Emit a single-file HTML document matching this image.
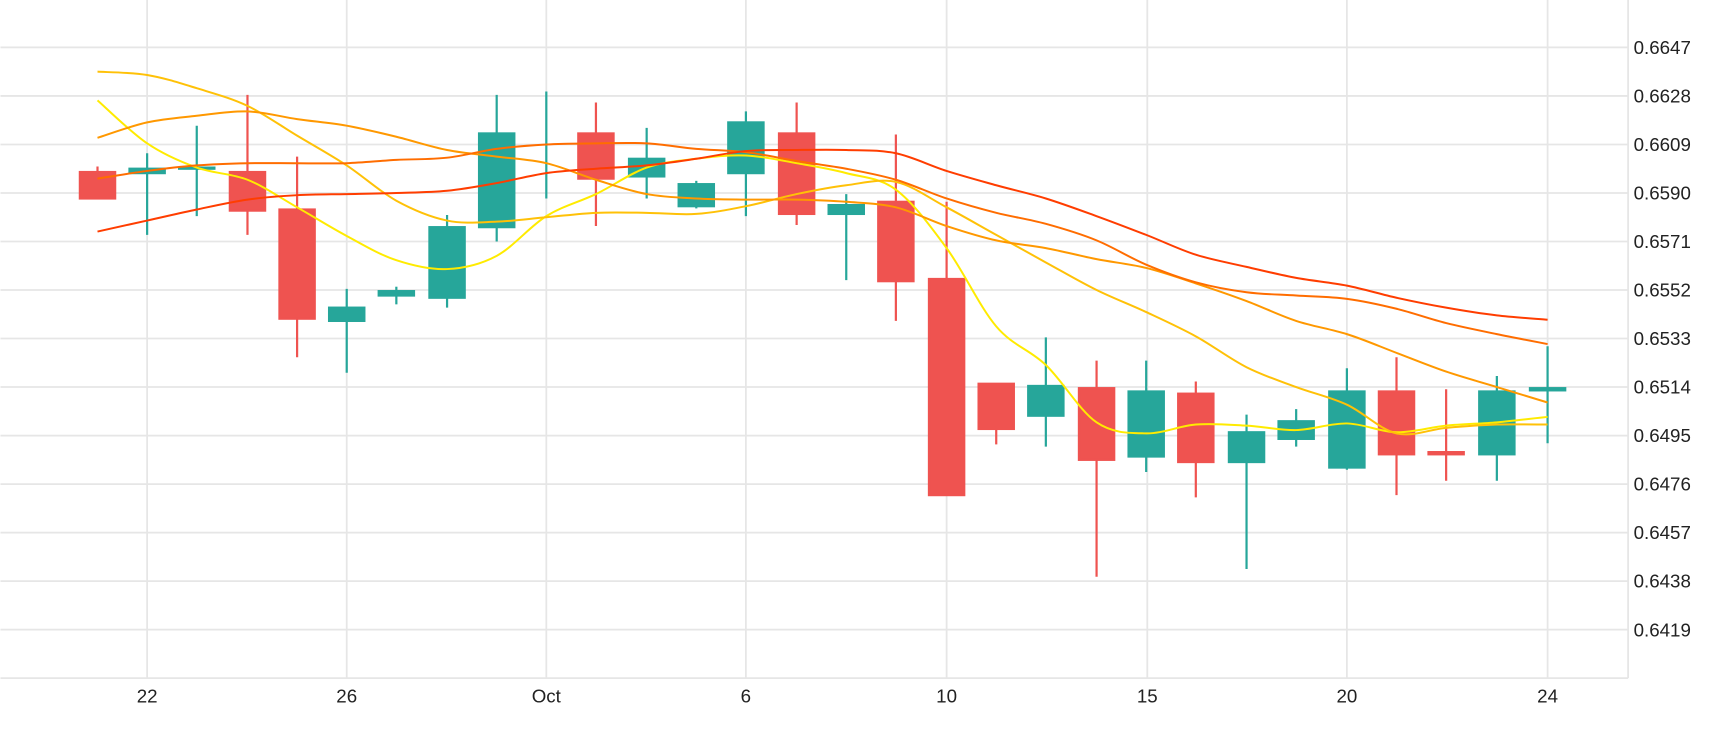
<!DOCTYPE html>
<html><head><meta charset="utf-8"><style>html,body{margin:0;padding:0;background:#fff}svg{display:block}</style></head>
<body>
<svg id="c" width="1730" height="730" viewBox="0 0 1568 662" xmlns="http://www.w3.org/2000/svg" font-family="Liberation Sans, sans-serif">
<g stroke="#e6e6e6" stroke-width="1.6">
<line x1="0" y1="43" x2="1476" y2="43"/><line x1="0" y1="87" x2="1476" y2="87"/><line x1="0" y1="131" x2="1476" y2="131"/><line x1="0" y1="175" x2="1476" y2="175"/><line x1="0" y1="219" x2="1476" y2="219"/><line x1="0" y1="263" x2="1476" y2="263"/><line x1="0" y1="307" x2="1476" y2="307"/><line x1="0" y1="351" x2="1476" y2="351"/><line x1="0" y1="395" x2="1476" y2="395"/><line x1="0" y1="439" x2="1476" y2="439"/><line x1="0" y1="483" x2="1476" y2="483"/><line x1="0" y1="527" x2="1476" y2="527"/><line x1="0" y1="571" x2="1476" y2="571"/>
<line x1="133" y1="0" x2="133" y2="615"/><line x1="314" y1="0" x2="314" y2="615"/><line x1="495" y1="0" x2="495" y2="615"/><line x1="676" y1="0" x2="676" y2="615"/><line x1="858" y1="0" x2="858" y2="615"/><line x1="1040" y1="0" x2="1040" y2="615"/><line x1="1221" y1="0" x2="1221" y2="615"/><line x1="1403" y1="0" x2="1403" y2="615"/>
<line x1="0" y1="615" x2="1476" y2="615"/><line x1="1476" y1="0" x2="1476" y2="615"/>
</g>
<g fill="#222" font-size="17">
<text x="1481" y="49">0.6647</text><text x="1481" y="93">0.6628</text><text x="1481" y="137">0.6609</text><text x="1481" y="181">0.6590</text><text x="1481" y="225">0.6571</text><text x="1481" y="269">0.6552</text><text x="1481" y="313">0.6533</text><text x="1481" y="357">0.6514</text><text x="1481" y="401">0.6495</text><text x="1481" y="445">0.6476</text><text x="1481" y="489">0.6457</text><text x="1481" y="533">0.6438</text><text x="1481" y="577">0.6419</text>
</g>
<g fill="#222" font-size="17" text-anchor="middle">
<text x="133" y="637">22</text><text x="314" y="637">26</text><text x="495" y="637">Oct</text><text x="676" y="637">6</text><text x="858" y="637">10</text><text x="1040" y="637">15</text><text x="1221" y="637">20</text><text x="1403" y="637">24</text>
</g>
<g stroke-width="2">
<g stroke="#ef5350" fill="#ef5350">
<line x1="88" y1="151" x2="88" y2="180"/><rect x="72" y="156" width="32" height="24"/>
<line x1="224" y1="86" x2="224" y2="213"/><rect x="208" y="156" width="32" height="35"/>
<line x1="269" y1="142" x2="269" y2="324"/><rect x="253" y="190" width="32" height="99"/>
<line x1="540" y1="93" x2="540" y2="205"/><rect x="524" y="121" width="32" height="41"/>
<line x1="722" y1="93" x2="722" y2="204"/><rect x="706" y="121" width="32" height="73"/>
<line x1="812" y1="122" x2="812" y2="291"/><rect x="796" y="183" width="32" height="72"/>
<line x1="858" y1="183" x2="858" y2="449"/><rect x="842" y="253" width="32" height="196"/>
<line x1="903" y1="348" x2="903" y2="403"/><rect x="887" y="348" width="32" height="41"/>
<line x1="994" y1="327" x2="994" y2="523"/><rect x="978" y="352" width="32" height="65"/>
<line x1="1084" y1="346" x2="1084" y2="451"/><rect x="1068" y="357" width="32" height="62"/>
<line x1="1266" y1="324" x2="1266" y2="449"/><rect x="1250" y="355" width="32" height="57"/>
<line x1="1311" y1="353" x2="1311" y2="436"/><rect x="1295" y="410" width="32" height="2"/>
</g>
<g stroke="#26a69a" fill="#26a69a">
<line x1="133" y1="139" x2="133" y2="213"/><rect x="117" y="153" width="32" height="4"/>
<line x1="178" y1="114" x2="178" y2="196"/><rect x="162" y="152" width="32" height="1"/>
<line x1="314" y1="262" x2="314" y2="338"/><rect x="298" y="279" width="32" height="12"/>
<line x1="359" y1="260" x2="359" y2="276"/><rect x="343" y="264" width="32" height="4"/>
<line x1="405" y1="195" x2="405" y2="279"/><rect x="389" y="206" width="32" height="64"/>
<line x1="450" y1="86" x2="450" y2="219"/><rect x="434" y="121" width="32" height="85"/>
<line x1="495" y1="83" x2="495" y2="180"/>
<line x1="586" y1="116" x2="586" y2="180"/><rect x="570" y="144" width="32" height="16"/>
<line x1="631" y1="164" x2="631" y2="189"/><rect x="615" y="167" width="32" height="20"/>
<line x1="676" y1="101" x2="676" y2="196"/><rect x="660" y="111" width="32" height="46"/>
<line x1="767" y1="176" x2="767" y2="254"/><rect x="751" y="186" width="32" height="8"/>
<line x1="948" y1="306" x2="948" y2="405"/><rect x="932" y="350" width="32" height="27"/>
<line x1="1039" y1="327" x2="1039" y2="428"/><rect x="1023" y="355" width="32" height="59"/>
<line x1="1130" y1="376" x2="1130" y2="516"/><rect x="1114" y="392" width="32" height="27"/>
<line x1="1175" y1="371" x2="1175" y2="405"/><rect x="1159" y="382" width="32" height="16"/>
<line x1="1221" y1="334" x2="1221" y2="426"/><rect x="1205" y="355" width="32" height="69"/>
<line x1="1357" y1="341" x2="1357" y2="436"/><rect x="1341" y="355" width="32" height="57"/>
<line x1="1403" y1="314" x2="1403" y2="402"/><rect x="1387" y="352" width="32" height="2"/>
</g>
</g>
<g id="ma" fill="none" stroke-width="1.8" stroke-linejoin="round">
<polyline stroke="#ffeb00" points="88,91 133,130 178,152 224,163 269,188 314,214 359,236 405,244 450,232 495,196 540,176 586,152 631,144 676,141 722,148 767,157 812,172 858,225 903,296 948,331 994,383 1039,393 1084,385 1130,386 1175,390 1221,384 1266,392 1311,386 1357,383 1403,378"/>
<polyline stroke="#ffc107" points="88,65 133,68 178,80 224,96 269,123 314,150 359,182 405,200 450,201 495,197 540,193 586,193 631,194 676,187 722,176 767,168 812,165 858,188 903,213 948,238 994,263 1039,283 1084,305 1130,333 1175,351 1221,367 1266,393 1311,388 1357,385 1403,385"/>
<polyline stroke="#ff9800" points="88,125 133,111 178,105 224,101 269,108 314,114 359,124 405,136 450,142 495,148 540,163 586,176 631,180 676,181 722,181 767,183 812,188 858,205 903,218 948,225 994,235 1039,243 1084,257 1130,273 1175,291 1221,303 1266,320 1311,337 1357,351 1403,365"/>
<polyline stroke="#ff6d00" points="88,162 133,155 178,150 224,148 269,148 314,148 359,145 405,143 450,135 495,131 540,130 586,130 631,135 676,138 722,146 767,153 812,163 858,180 903,193 948,203 994,218 1039,240 1084,256 1130,265 1175,268 1221,271 1266,280 1311,293 1357,303 1403,312"/>
<polyline stroke="#ff3d00" points="88,210 133,200 178,190 224,181 269,177 314,176 359,175 405,173 450,166 495,157 540,153 586,150 631,144 676,137 722,136 767,136 812,139 858,155 903,168 948,180 994,196 1039,213 1084,231 1130,242 1175,252 1221,259 1266,270 1311,279 1357,286 1403,290"/>
</g>
</svg>
<script>
(function(){
var NS="http://www.w3.org/2000/svg";
var pls=document.querySelectorAll('#ma polyline');
for(var k=0;k<pls.length;k++){
 var pl=pls[k];
 var p=pl.getAttribute('points').trim().split(/\s+/).map(function(s){var a=s.split(',');return[+a[0],+a[1]];});
 var d="M"+p[0][0]+","+p[0][1];
 for(var i=0;i<p.length-1;i++){
  var p0=p[i-1]||p[i],p1=p[i],p2=p[i+1],p3=p[i+2]||p2;
  var c1x=p1[0]+(p2[0]-p0[0])/6,c1y=p1[1]+(p2[1]-p0[1])/6;
  var c2x=p2[0]-(p3[0]-p1[0])/6,c2y=p2[1]-(p3[1]-p1[1])/6;
  d+=" C"+c1x.toFixed(1)+","+c1y.toFixed(1)+" "+c2x.toFixed(1)+","+c2y.toFixed(1)+" "+p2[0]+","+p2[1];
 }
 var path=document.createElementNS(NS,'path');
 path.setAttribute('d',d);path.setAttribute('stroke',pl.getAttribute('stroke'));
 pl.parentNode.replaceChild(path,pl);
}
})();
</script>
</body></html>
